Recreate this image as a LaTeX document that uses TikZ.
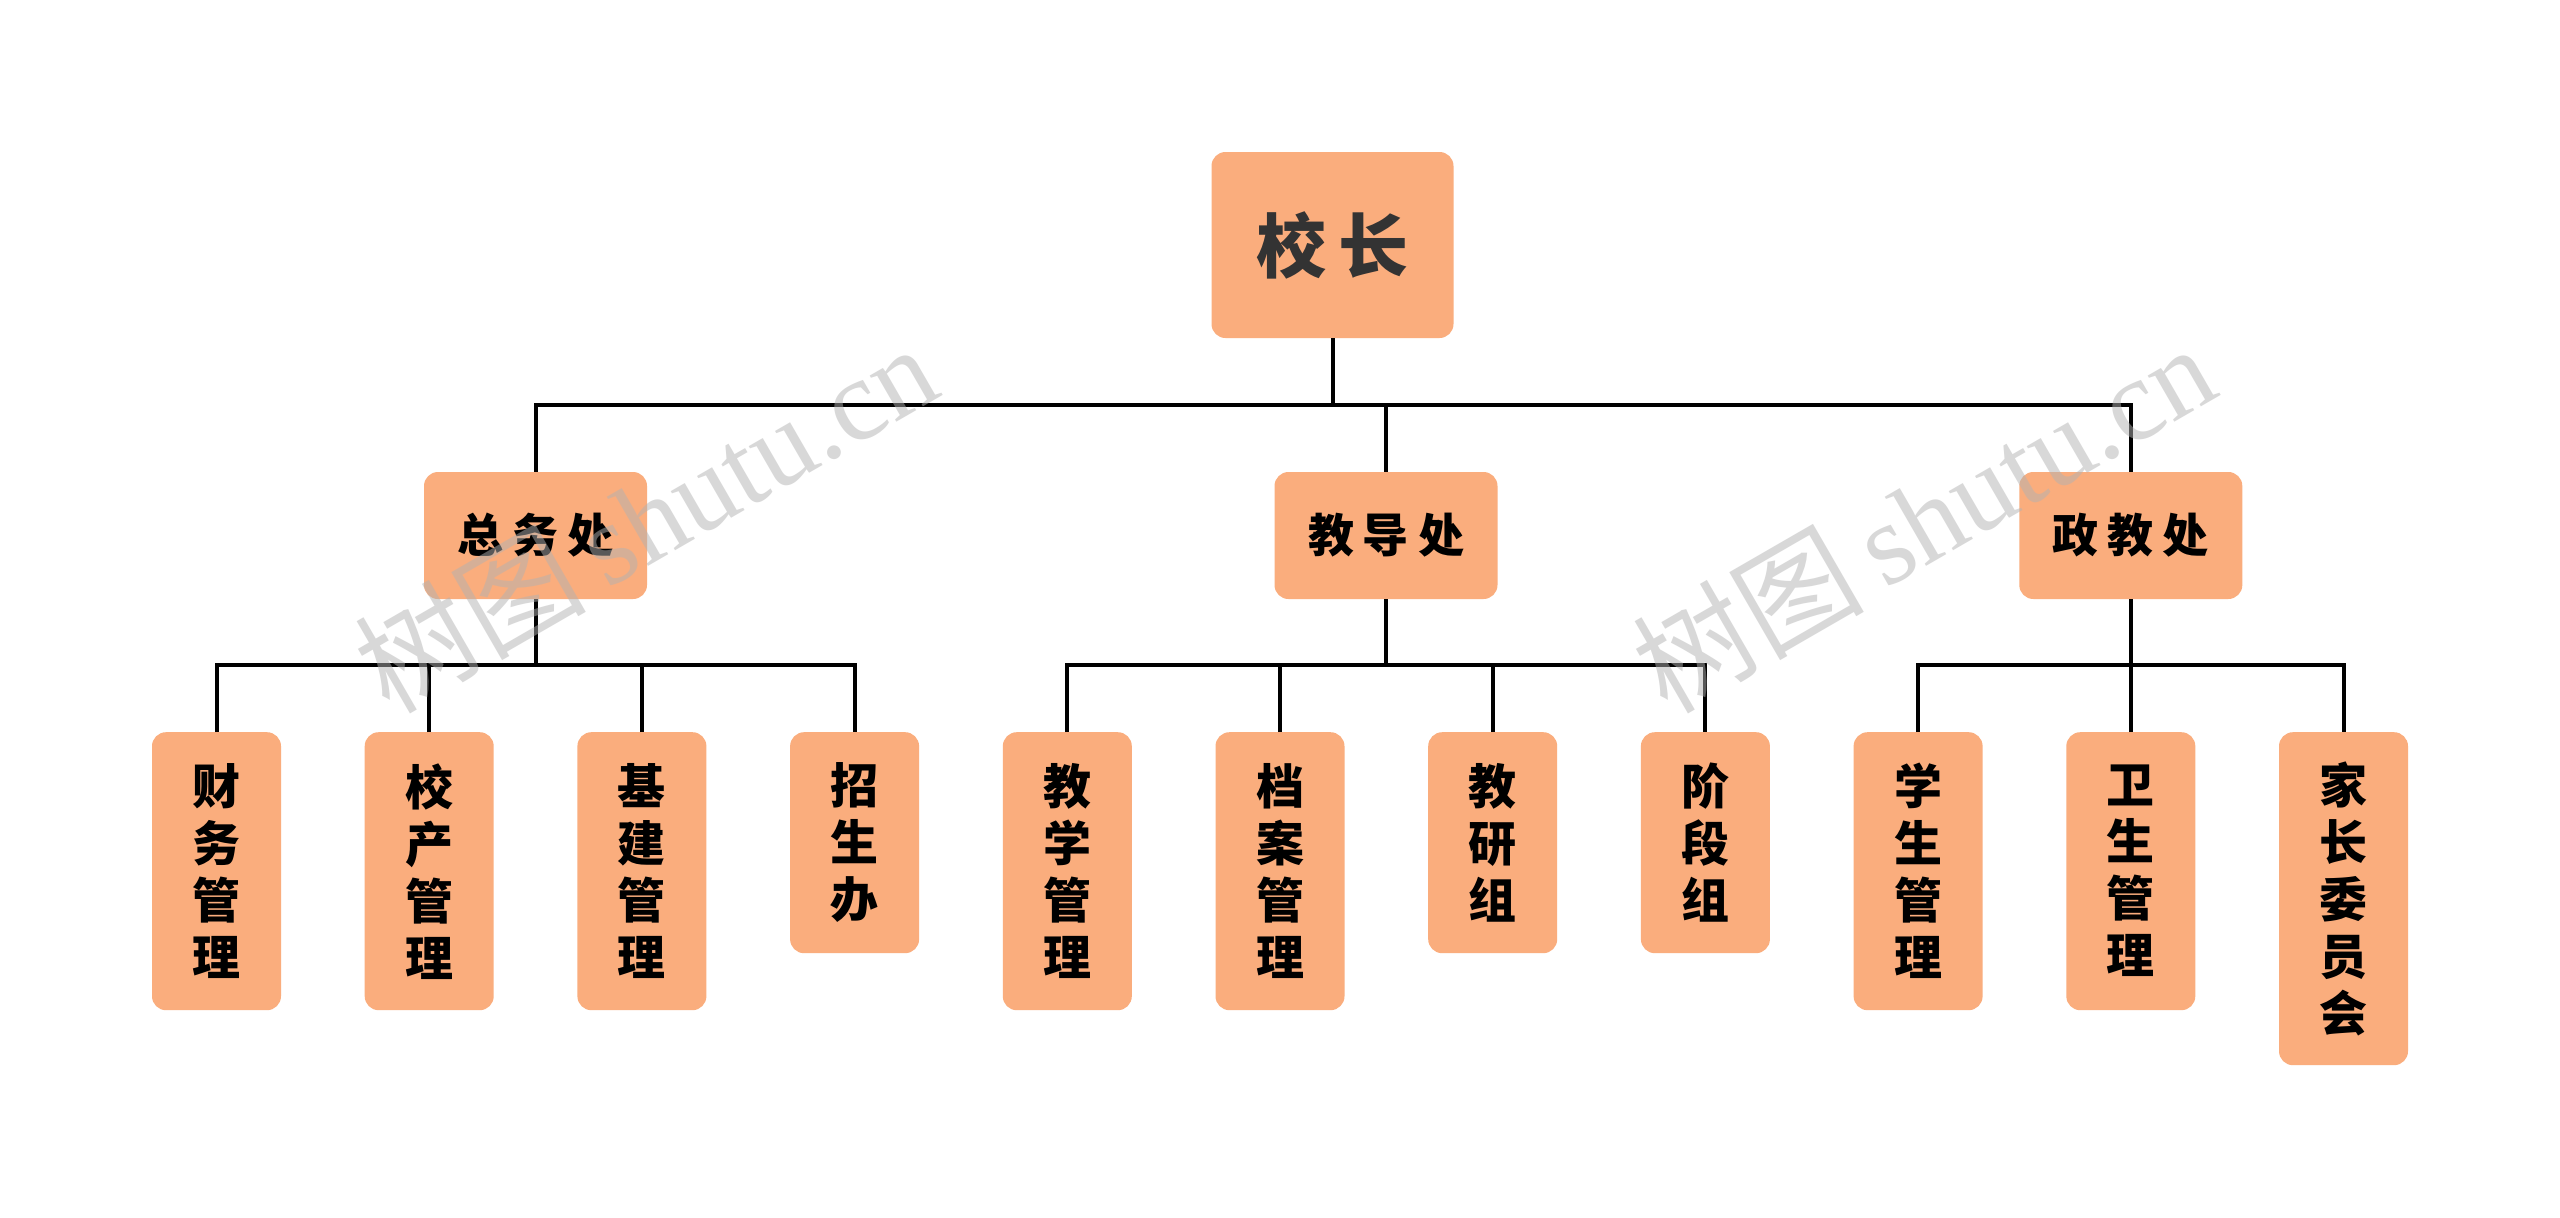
\documentclass[tikz,border=0pt]{standalone}
\usepackage{fontspec}
\newfontfamily\cjk{Noto Sans CJK SC}
\newfontfamily\wmlat{Liberation Serif}
\definecolor{boxfill}{HTML}{FAAD7D}
\definecolor{topink}{HTML}{333333}
\begin{document}
\begin{tikzpicture}[x=1pt,y=-1pt,
  box/.style={fill=boxfill, rounded corners=14pt, inner sep=0pt, align=center},
  topbox/.style={box, minimum width=242pt, minimum height=186pt, text=topink,
    font=\cjk\bfseries\fontsize{70}{80}\selectfont},
  midbox/.style={box, minimum width=223pt, minimum height=127pt,
    font=\cjk\bfseries\fontsize{46}{50}\selectfont},
  leaf/.style={box, anchor=north, minimum width=129pt,
    font=\cjk\bfseries\fontsize{48}{57}\selectfont},
  conn/.style={draw=black, line width=4pt},
  wm/.style={text=gray!60, opacity=0.5, inner sep=0pt}]
\useasboundingbox[fill=white] (0,0) rectangle (2560,1218);

% top
\node[topbox] (top) at (1332.5,245) {校\hspace{12pt}长};

% second level
\node[midbox] (zw) at (535.5,535.5) {总\hspace{9pt}务\hspace{9pt}处};
\node[midbox] (jd) at (1386,535.5) {教\hspace{9pt}导\hspace{9pt}处};
\node[midbox] (zj) at (2130.8,535.5) {政\hspace{9pt}教\hspace{9pt}处};

% leaves
\node[leaf, minimum height=278pt] (l0) at (216.5,732) {财\\务\\管\\理};
\node[leaf, minimum height=278pt] (l1) at (429.2,732) {校\\产\\管\\理};
\node[leaf, minimum height=278pt] (l2) at (641.9,732) {基\\建\\管\\理};
\node[leaf, minimum height=221pt] (l3) at (854.6,732) {招\\生\\办};
\node[leaf, minimum height=278pt] (l4) at (1067.3,732) {教\\学\\管\\理};
\node[leaf, minimum height=278pt] (l5) at (1280.0,732) {档\\案\\管\\理};
\node[leaf, minimum height=221pt] (l6) at (1492.7,732) {教\\研\\组};
\node[leaf, minimum height=221pt] (l7) at (1705.4,732) {阶\\段\\组};
\node[leaf, minimum height=278pt] (l8) at (1918.1,732) {学\\生\\管\\理};
\node[leaf, minimum height=278pt] (l9) at (2130.8,732) {卫\\生\\管\\理};
\node[leaf, minimum height=333pt] (l10) at (2343.5,732) {家\\长\\委\\员\\会};

% bar levels
\coordinate (barA) at (0,405);
\coordinate (barB) at (0,665);

% connectors level 1
\draw[conn] (top.south) -- (top.south |- barA);
\draw[conn] (zw.north) -- (zw.north |- barA) -- (zj.north |- barA) -- (zj.north);
\draw[conn] (jd.north) -- (jd.north |- barA);

% connectors level 2
\draw[conn] (zw.south) -- (zw.south |- barB);
\draw[conn] (l0.north) -- (l0.north |- barB) -- (l3.north |- barB) -- (l3.north);
\draw[conn] (l1.north) -- (l1.north |- barB);
\draw[conn] (l2.north) -- (l2.north |- barB);

\draw[conn] (jd.south) -- (jd.south |- barB);
\draw[conn] (l4.north) -- (l4.north |- barB) -- (l7.north |- barB) -- (l7.north);
\draw[conn] (l5.north) -- (l5.north |- barB);
\draw[conn] (l6.north) -- (l6.north |- barB);

\draw[conn] (zj.south) -- (zj.south |- barB);
\draw[conn] (l8.north) -- (l8.north |- barB) -- (l10.north |- barB) -- (l10.north);
\draw[conn] (l9.north) -- (l9.north |- barB);

% watermarks
\node[wm, rotate=30] (wm1) at (645,517) {\cjk\fontsize{116}{120}\selectfont 树图\,\wmlat shutu.cn};
\node[wm, rotate=30] (wm2) at (1923,517) {\cjk\fontsize{116}{120}\selectfont 树图\,\wmlat shutu.cn};
\end{tikzpicture}
\end{document}
